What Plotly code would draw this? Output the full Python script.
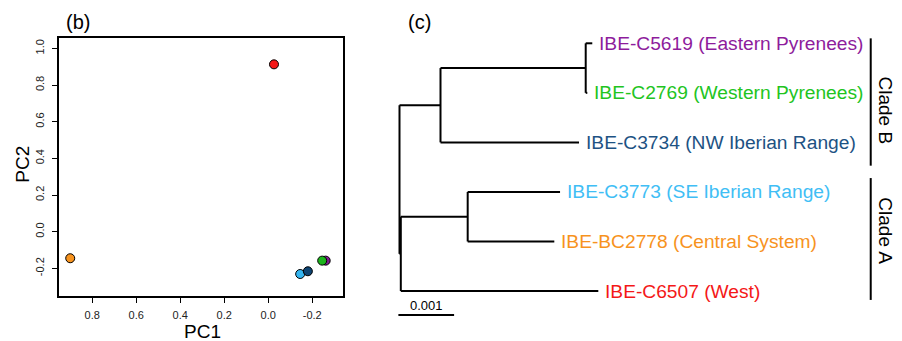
import plotly.graph_objects as go

# ---------------- Panel (b): PCA ----------------
pc_names = ["IBE-C6507", "IBE-BC2778", "IBE-C3773", "IBE-C3734", "IBE-C5619", "IBE-C2769"]
pc1 = [-0.026, 0.900, -0.145, -0.180, -0.261, -0.245]
pc2 = [0.913, -0.145, -0.231, -0.216, -0.158, -0.158]
pc_colors = ["#F41818", "#F7931E", "#35B5F0", "#0E4472", "#7E1A8E", "#1DB41D"]

x_ticks = [0.8, 0.6, 0.4, 0.2, 0.0, -0.2]
y_ticks = [1.0, 0.8, 0.6, 0.4, 0.2, 0.0, -0.2]

# ---------------- Panel (c): tree ----------------
tip_labels = ["IBE-C5619 (Eastern Pyrenees)", "IBE-C2769 (Western Pyrenees)",
              "IBE-C3734 (NW Iberian Range)", "IBE-C3773 (SE Iberian Range)",
              "IBE-BC2778 (Central System)", "IBE-C6507 (West)"]
tip_colors = ["#8E1C9C", "#22C41E", "#1D5283", "#40BEF5", "#F7931E", "#F41818"]
# tree: node -> (parent, branch length)
node_names = ["root", "cladeB", "pyr", "t0", "t1", "t2", "cladeA", "se", "t3", "t4", "t5"]
node_parent = [None, "root", "cladeB", "pyr", "pyr", "cladeB", "root", "cladeA", "se", "se", "cladeA"]
branch_len = [0.0, 0.000736, 0.002607, 0.000118, 0.000029, 0.002487,
              0.0000233, 0.001201, 0.001658, 0.001555, 0.003546]
scale_len = 0.001
clade_names = ["Clade B", "Clade A"]
clade_bar_start = [-0.10, 2.72]
clade_bar_end = [2.47, 5.18]
clade_text_y = [1.36, 3.78]

FONT = "Liberation Sans, Arial, sans-serif"
W, H = 902, 341
PX_PER_UNIT = 55.7 / scale_len  # tree pixels per branch-length unit
ROOT_PX = 399.5
TREE_LEFT_PX = 380.0

# compute node coordinates
parent = dict(zip(node_names, node_parent))
blen = dict(zip(node_names, branch_len))
children = {n: [] for n in node_names}
for n, p in zip(node_names, node_parent):
    if p is not None:
        children[p].append(n)
xpos = {}
for n in node_names:
    p = parent[n]
    xpos[n] = blen[n] + (xpos[p] if p is not None else 0.0)
ypos = {}
def gety(n):
    if n.startswith("t") and n[1:].isdigit():
        ypos[n] = float(int(n[1:]))
    else:
        ypos[n] = sum(gety(c) for c in children[n]) / len(children[n])
    return ypos[n]
gety("root")

lx, ly = [], []
for n in node_names:
    p = parent[n]
    if p is None:
        continue
    lx += [xpos[p], xpos[n], None]
    ly += [ypos[n], ypos[n], None]
for n in node_names:
    if children[n]:
        ys = [ypos[c] for c in children[n]]
        lx += [xpos[n], xpos[n], None]
        ly += [min(ys), max(ys), None]

fig = go.Figure()

fig.add_trace(go.Scatter(
    x=pc1, y=pc2, mode="markers", xaxis="x", yaxis="y",
    marker=dict(size=9, color=pc_colors, line=dict(color="black", width=1)),
    hoverinfo="text", text=pc_names, showlegend=False))

fig.add_trace(go.Scatter(
    x=lx, y=ly, mode="lines", xaxis="x2", yaxis="y2",
    line=dict(color="black", width=2), hoverinfo="skip", showlegend=False))

# scale bar
scale_y = 5.485
scale_x0 = -0.00002
fig.add_trace(go.Scatter(
    x=[scale_x0, scale_x0 + scale_len], y=[scale_y, scale_y], mode="lines",
    xaxis="x2", yaxis="y2", line=dict(color="black", width=2),
    hoverinfo="skip", showlegend=False))

# clade bars
clade_x = 0.00846
for s, e in zip(clade_bar_start, clade_bar_end):
    fig.add_trace(go.Scatter(
        x=[clade_x, clade_x], y=[s, e], mode="lines", xaxis="x2", yaxis="y2",
        line=dict(color="black", width=2), hoverinfo="skip", showlegend=False))

ann = []
for i, (lab, col) in enumerate(zip(tip_labels, tip_colors)):
    t = "t%d" % i
    ann.append(dict(x=xpos[t], y=ypos[t], xref="x2", yref="y2", text=lab,
                    xanchor="left", yanchor="middle", xshift=5, showarrow=False,
                    font=dict(family=FONT, size=19.2, color=col)))
for name, yy in zip(clade_names, clade_text_y):
    ann.append(dict(x=clade_x, y=yy, xref="x2", yref="y2", text=name, textangle=90,
                    xanchor="center", yanchor="middle", xshift=14.5, showarrow=False,
                    font=dict(family=FONT, size=19, color="black")))
ann.append(dict(x=scale_x0 + scale_len / 2, y=scale_y, xref="x2", yref="y2", text="0.001",
                xanchor="center", yanchor="bottom", yshift=0, showarrow=False,
                font=dict(family=FONT, size=13, color="black")))
ann.append(dict(x=77.7 / W, y=1 - 22 / H, xref="paper", yref="paper", text="(b)",
                xanchor="center", yanchor="middle", showarrow=False,
                font=dict(family=FONT, size=20, color="black")))
ann.append(dict(x=419 / W, y=1 - 22 / H, xref="paper", yref="paper", text="(c)",
                xanchor="center", yanchor="middle", showarrow=False,
                font=dict(family=FONT, size=20, color="black")))
ann.append(dict(x=202 / W, y=1 - 331 / H, xref="paper", yref="paper", text="PC1",
                xanchor="center", yanchor="middle", showarrow=False,
                font=dict(family=FONT, size=19, color="black")))
ann.append(dict(x=21.7 / W, y=1 - 164 / H, xref="paper", yref="paper", text="PC2",
                xanchor="center", yanchor="middle", showarrow=False, textangle=-90,
                font=dict(family=FONT, size=19, color="black")))

fig.update_layout(
    width=W, height=H, margin=dict(l=0, r=0, t=0, b=0),
    paper_bgcolor="white", plot_bgcolor="white",
    font=dict(family=FONT, color="black"),
    annotations=ann,
    xaxis=dict(domain=[59 / W, 343.3 / W], range=[0.951, -0.341],
               showgrid=False, zeroline=False, showline=True, mirror=True,
               linecolor="black", linewidth=1.5,
               tickmode="array", tickvals=x_ticks, ticktext=["%.1f" % v for v in x_ticks],
               ticks="outside", ticklen=5, tickwidth=1, tickcolor="black",
               tickfont=dict(family=FONT, size=11, color="#222222"),
               ticklabelstandoff=3),
    yaxis=dict(domain=[1 - 296 / H, 1 - 38.3 / H], range=[-0.351, 1.055],
               showgrid=False, zeroline=False, showline=True, mirror=True,
               linecolor="black", linewidth=1.5,
               tickmode="array", tickvals=y_ticks, ticktext=["%.1f" % v for v in y_ticks],
               ticks="outside", ticklen=5, tickwidth=1, tickcolor="black", tickangle=-90,
               tickfont=dict(family=FONT, size=11, color="#222222"),
               ticklabelstandoff=4),
    xaxis2=dict(domain=[TREE_LEFT_PX / W, 1],
                range=[(TREE_LEFT_PX - ROOT_PX) / PX_PER_UNIT, (W - ROOT_PX) / PX_PER_UNIT],
                visible=False, anchor="y2"),
    yaxis2=dict(domain=[0, 1], range=[6.009, -0.874], visible=False, anchor="x2"),
)

fig.write_html("out.html", config={"displayModeBar": False},
               post_script="document.body.style.margin='0';document.body.style.overflow='hidden';")
